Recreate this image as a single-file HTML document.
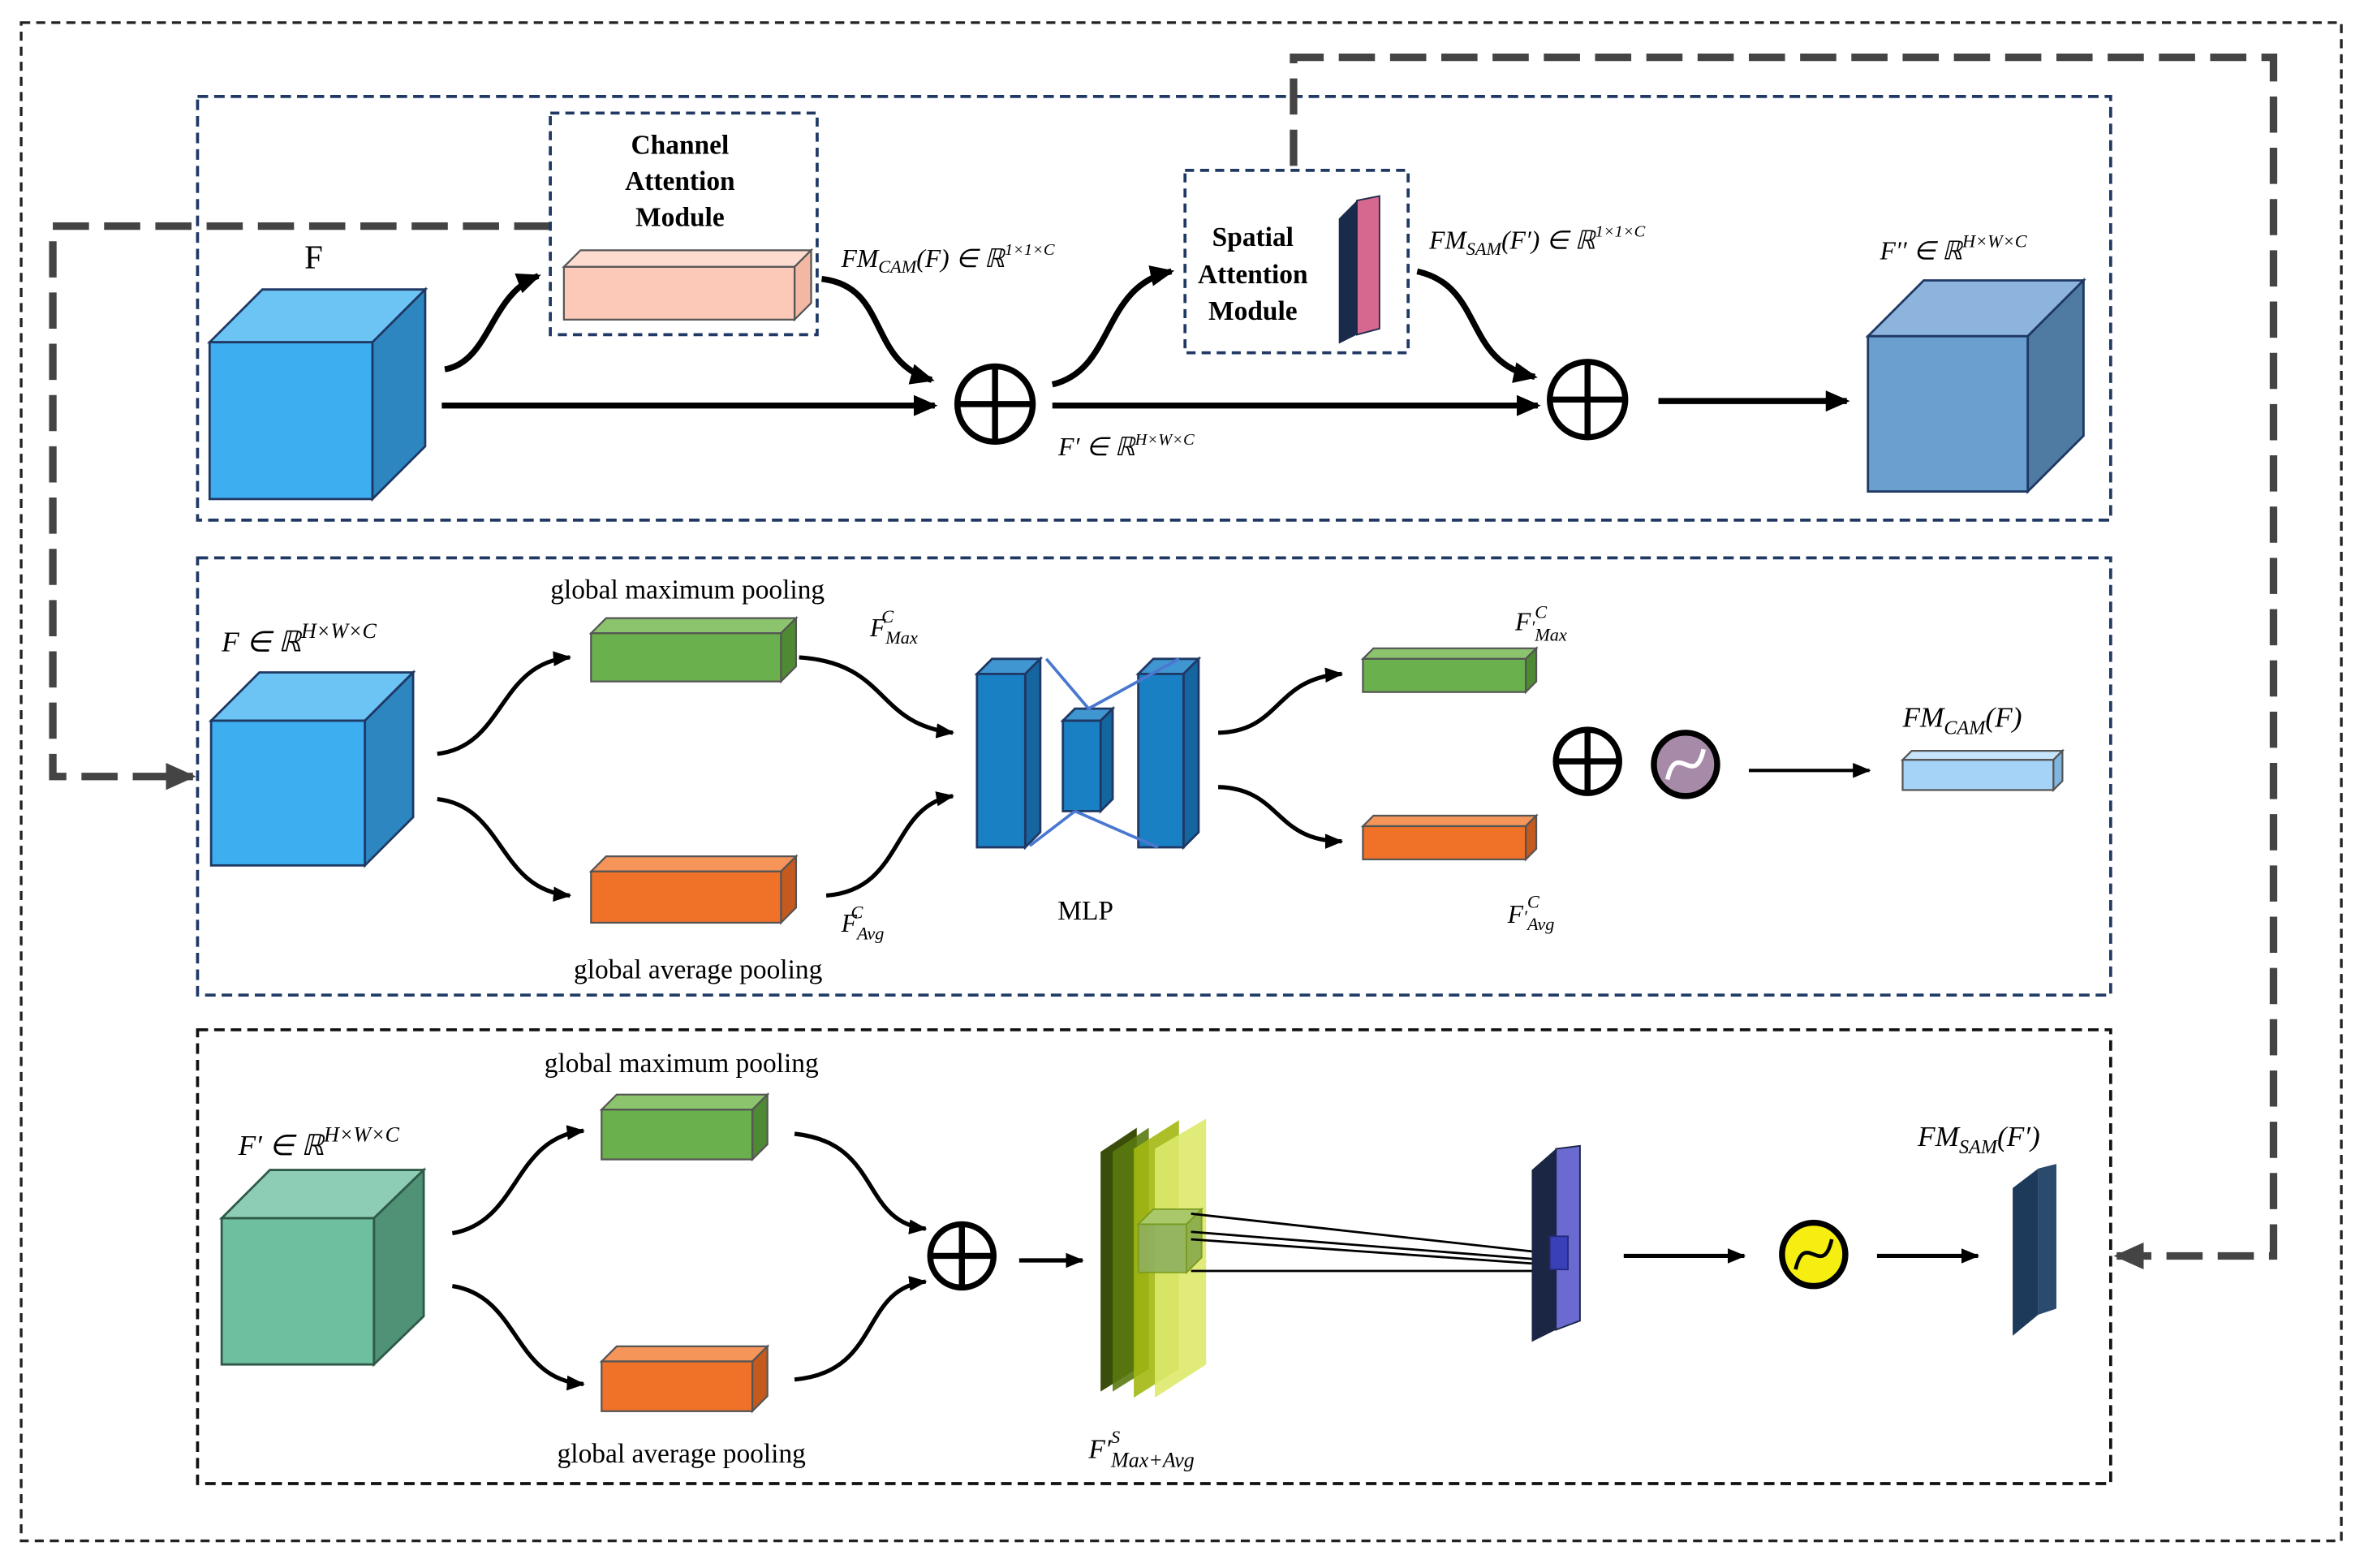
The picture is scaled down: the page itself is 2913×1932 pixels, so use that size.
<!DOCTYPE html>
<html><head><meta charset="utf-8"><style>html,body{margin:0;padding:0;background:#fff}svg{display:block}</style></head>
<body>
<svg width="2913" height="1932" viewBox="0 0 1568 1040" xmlns="http://www.w3.org/2000/svg" font-family="Liberation Serif, serif">
<defs>
<marker id="a" markerWidth="16" markerHeight="14" refX="14" refY="7" orient="auto" markerUnits="userSpaceOnUse"><path d="M0,0 L16,7 L0,14 z" fill="#000"/></marker>
<marker id="s" markerWidth="12" markerHeight="10" refX="11" refY="5" orient="auto" markerUnits="userSpaceOnUse"><path d="M0,0 L12,5 L0,10 z" fill="#000"/></marker>
<marker id="g" markerWidth="20" markerHeight="18" refX="18" refY="9" orient="auto" markerUnits="userSpaceOnUse"><path d="M0,0 L20,9 L0,18 z" fill="#444"/></marker>
</defs>
<rect width="1568" height="1040" fill="#fff"/>
<rect x="14" y="15" width="1539" height="1007" fill="none" stroke="#222" stroke-width="1.8" stroke-dasharray="6,4"/>
<rect x="131" y="64" width="1269" height="281" fill="none" stroke="#1f3864" stroke-width="2" stroke-dasharray="7,4"/>
<rect x="131" y="370" width="1269" height="290" fill="none" stroke="#1f3864" stroke-width="2" stroke-dasharray="7,4"/>
<rect x="131" y="683" width="1269" height="301" fill="none" stroke="#111" stroke-width="2" stroke-dasharray="7,4"/>
<path d="M858,110 L858,38 L1508,38 L1508,833 L1404,833" fill="none" stroke="#444" stroke-width="5" stroke-dasharray="24,10" marker-end="url(#g)"/>
<path d="M365,150 L35,150 L35,515 L128,515" fill="none" stroke="#444" stroke-width="5" stroke-dasharray="24,10" marker-end="url(#g)"/>
<g stroke="#1f3864" stroke-width="1.5">
<polygon points="139,227 174,192 282,192 247,227" fill="#6cc4f5"/>
<polygon points="247,227 282,192 282,296 247,331" fill="#2e86c0"/>
<rect x="139" y="227" width="108" height="104" fill="#3daeef"/>
<polygon points="1239,223 1276,186 1382,186 1345,223" fill="#8cb4dc"/>
<polygon points="1345,223 1382,186 1382,289 1345,326" fill="#4f7ba3"/>
<rect x="1239" y="223" width="106" height="103" fill="#6a9fd0"/>
</g>
<text x="208" y="178" font-size="22" text-anchor="middle">F</text>
<rect x="365" y="75" width="177" height="147" fill="none" stroke="#1f3864" stroke-width="2" stroke-dasharray="6,4"/>
<text font-size="18" font-weight="bold" text-anchor="middle"><tspan x="451" y="102">Channel</tspan><tspan x="451" y="126">Attention</tspan><tspan x="451" y="150">Module</tspan></text>
<g stroke="#555" stroke-width="1.2">
<polygon points="374,177 385,166 538,166 527,177" fill="#fddccf"/>
<polygon points="527,177 538,166 538,201 527,212" fill="#f2b8a4"/>
<rect x="374" y="177" width="153" height="35" fill="#fcc9b8"/>
</g>
<rect x="786" y="113" width="148" height="121" fill="none" stroke="#1f3864" stroke-width="2" stroke-dasharray="6,4"/>
<text font-size="18" font-weight="bold" text-anchor="middle"><tspan x="831" y="163">Spatial</tspan><tspan x="831" y="188">Attention</tspan><tspan x="831" y="212">Module</tspan></text>
<polygon points="888,145 900,133 900,222 888,228" fill="#1a2a4a"/>
<polygon points="900,133 915,130 915,218 900,222" fill="#d6688f" stroke="#1a2a4a" stroke-width="1"/>
<g fill="none" stroke="#000" stroke-width="4">
<path d="M295,245 C325,240 325,195 357,183" marker-end="url(#a)"/>
<path d="M545,185 C590,190 575,240 618,252" marker-end="url(#a)"/>
<path d="M698,255 C740,245 730,190 777,180" marker-end="url(#a)"/>
<path d="M940,180 C985,190 970,240 1018,250" marker-end="url(#a)"/>
<path d="M293,269 L620,269" marker-end="url(#a)"/>
<path d="M698,269 L1020,269" marker-end="url(#a)"/>
<path d="M1100,266 L1225,266" marker-end="url(#a)"/>
</g>
<g fill="none" stroke="#000" stroke-width="4">
<circle cx="660" cy="268" r="25"/><path d="M635,268 H685 M660,243 V293"/>
<circle cx="1053" cy="265" r="25"/><path d="M1028,265 H1078 M1053,240 V290"/>
</g>
<g font-style="italic" font-size="17">
<text x="558" y="177">FM<tspan font-size="12" dy="4">CAM</tspan><tspan dy="-4">(F) ∈ ℝ</tspan><tspan font-size="11" dy="-8">1×1×C</tspan></text>
<text x="948" y="165">FM<tspan font-size="12" dy="4">SAM</tspan><tspan dy="-4">(F′) ∈ ℝ</tspan><tspan font-size="11" dy="-8">1×1×C</tspan></text>
<text x="1247" y="172">F′′ ∈ ℝ<tspan font-size="12" dy="-8">H×W×C</tspan></text>
<text x="702" y="302">F′ ∈ ℝ<tspan font-size="11" dy="-7">H×W×C</tspan></text>
</g>
<g stroke="#1f3864" stroke-width="1.5">
<polygon points="140,478 172,446 274,446 242,478" fill="#6cc4f5"/>
<polygon points="242,478 274,446 274,542 242,574" fill="#2e86c0"/>
<rect x="140" y="478" width="102" height="96" fill="#3daeef"/>
</g>
<text x="147" y="432" font-size="19" font-style="italic">F ∈ ℝ<tspan font-size="14" dy="-9">H×W×C</tspan></text>
<g stroke="#555" stroke-width="1.2">
<polygon points="392,420 402,410 528,410 518,420" fill="#8cc46e"/><polygon points="518,420 528,410 528,442 518,452" fill="#4e8a34"/><rect x="392" y="420" width="126" height="32" fill="#6ab04c"/>
<polygon points="392,578 402,568 528,568 518,578" fill="#f5955a"/><polygon points="518,578 528,568 528,602 518,612" fill="#c55a1e"/><rect x="392" y="578" width="126" height="34" fill="#f07228"/>
<polygon points="904,437 911,430 1019,430 1012,437" fill="#8cc46e"/><polygon points="1012,437 1019,430 1019,452 1012,459" fill="#4e8a34"/><rect x="904" y="437" width="108" height="22" fill="#6ab04c"/>
<polygon points="904,548 911,541 1019,541 1012,548" fill="#f5955a"/><polygon points="1012,548 1019,541 1019,563 1012,570" fill="#c55a1e"/><rect x="904" y="548" width="108" height="22" fill="#f07228"/>
<polygon points="1262,504 1268,498 1368,498 1362,504" fill="#c6e4fb"/><polygon points="1362,504 1368,498 1368,518 1362,524" fill="#7fb6e0"/><rect x="1262" y="504" width="100" height="20" fill="#a5d3f7"/>
</g>
<text x="456" y="397" font-size="18" text-anchor="middle">global maximum pooling</text>
<text x="463" y="649" font-size="18" text-anchor="middle">global average pooling</text>
<g stroke="#1f3864" stroke-width="1.5">
<polygon points="648,447 658,437 690,437 680,447" fill="#3f96d0"/><polygon points="680,447 690,437 690,552 680,562" fill="#1565a0"/><rect x="648" y="447" width="32" height="115" fill="#1a80c4"/>
<polygon points="705,478 713,470 738,470 730,478" fill="#3f96d0"/><polygon points="730,478 738,470 738,530 730,538" fill="#1565a0"/><rect x="705" y="478" width="25" height="60" fill="#1a80c4"/>
<polygon points="755,447 765,437 795,437 785,447" fill="#3f96d0"/><polygon points="785,447 795,437 795,552 785,562" fill="#1565a0"/><rect x="755" y="447" width="30" height="115" fill="#1a80c4"/>
</g>
<g stroke="#4a78d0" stroke-width="2" fill="none"><path d="M694,437 L722,470 L782,437 M713,538 L683,561 M713,538 L768,562"/></g>
<text x="720" y="610" font-size="18" text-anchor="middle">MLP</text>
<g fill="none" stroke="#000" stroke-width="2.8">
<path d="M290,500 C335,495 330,440 378,436" marker-end="url(#s)"/>
<path d="M290,530 C335,535 330,590 378,594" marker-end="url(#s)"/>
<path d="M530,436 C590,440 580,480 632,486" marker-end="url(#s)"/>
<path d="M548,594 C600,590 590,535 632,528" marker-end="url(#s)"/>
<path d="M808,486 C850,485 845,450 890,447" marker-end="url(#s)"/>
<path d="M808,522 C850,523 845,558 890,558" marker-end="url(#s)"/>
<path d="M1160,511 L1240,511" stroke-width="2.2" marker-end="url(#s)"/>
</g>
<g fill="none" stroke="#000" stroke-width="4">
<circle cx="1053" cy="505" r="21"/><path d="M1032,505 H1074 M1053,484 V526"/>
</g>
<circle cx="1118" cy="507" r="21" fill="#a68aa8" stroke="#000" stroke-width="4"/>
<path d="M1106,517 C1112,490 1124,524 1130,497" fill="none" stroke="#fff" stroke-width="3"/>
<g font-style="italic" font-size="17">
<text x="577" y="422">F<tspan font-size="12" dy="5">Max</tspan><tspan font-size="12" dx="-24" dy="-14">C</tspan></text>
<text x="558" y="618">F<tspan font-size="12" dy="5">Avg</tspan><tspan font-size="12" dx="-22" dy="-14">C</tspan></text>
<text x="1005" y="418">F<tspan font-size="12" dy="2">′</tspan><tspan font-size="12" dy="-10">C</tspan><tspan font-size="12" dx="-8" dy="15">Max</tspan></text>
<text x="1000" y="612">F<tspan font-size="12" dy="0">′</tspan><tspan font-size="12" dy="-10">C</tspan><tspan font-size="12" dx="-8" dy="15">Avg</tspan></text>
<text x="1262" y="482" font-size="19">FM<tspan font-size="13" dy="5">CAM</tspan><tspan dy="-5">(F)</tspan></text>
</g>
<g stroke="#2f5a48" stroke-width="1.5">
<polygon points="147,808 179,776 281,776 248,808" fill="#8ecdb5"/>
<polygon points="248,808 281,776 281,873 248,905" fill="#4f9276"/>
<rect x="147" y="808" width="101" height="97" fill="#6dbf9f"/>
</g>
<text x="158" y="766" font-size="19" font-style="italic">F′ ∈ ℝ<tspan font-size="14" dy="-9">H×W×C</tspan></text>
<text x="452" y="711" font-size="18" text-anchor="middle">global maximum pooling</text>
<text x="452" y="970" font-size="18" text-anchor="middle">global average pooling</text>
<g stroke="#555" stroke-width="1.2">
<polygon points="399,736 409,726 509,726 499,736" fill="#8cc46e"/><polygon points="499,736 509,726 509,759 499,769" fill="#4e8a34"/><rect x="399" y="736" width="100" height="33" fill="#6ab04c"/>
<polygon points="399,903 409,893 509,893 499,903" fill="#f5955a"/><polygon points="499,903 509,893 509,926 499,936" fill="#c55a1e"/><rect x="399" y="903" width="100" height="33" fill="#f07228"/>
</g>
<g fill="none" stroke="#000" stroke-width="2.8">
<path d="M300,818 C345,810 340,755 387,750" marker-end="url(#s)"/>
<path d="M300,853 C345,860 340,915 387,918" marker-end="url(#s)"/>
<path d="M527,752 C585,758 570,810 614,815" marker-end="url(#s)"/>
<path d="M527,915 C585,910 570,855 614,850" marker-end="url(#s)"/>
<path d="M676,836 L718,836" marker-end="url(#s)"/>
<path d="M1077,833 L1157,833" marker-end="url(#s)"/>
<path d="M1245,833 L1312,833" marker-end="url(#s)"/>
</g>
<g fill="none" stroke="#000" stroke-width="4">
<circle cx="638" cy="833" r="21"/><path d="M617,833 H659 M638,812 V854"/>
</g>
<polygon points="730,764 754,748 754,908 730,923" fill="#3b4d0a"/>
<polygon points="738,764 762,748 762,908 738,923" fill="#5a7a10" opacity="0.9"/>
<polygon points="752,762 782,743 782,908 752,927" fill="#a3b812" opacity="0.9"/>
<polygon points="766,762 800,742 800,905 766,927" fill="#dde96a" opacity="0.9"/>
<polygon points="755,812 765,802 797,802 787,812" fill="#a8c86a" stroke="#7a9a20"/>
<rect x="755" y="812" width="32" height="32" fill="#8fb060" stroke="#7a9a20" opacity="0.9"/>
<polygon points="787,812 797,802 797,834 787,844" fill="#90b050" stroke="#7a9a20"/>
<g stroke="#000" stroke-width="1.5">
<path d="M790,805 L1016,830 M790,817 L1016,835 M790,822 L1016,838 M790,843 L1016,843"/>
</g>
<polygon points="1016,776 1032,762 1032,882 1016,890" fill="#1a2644"/>
<polygon points="1032,762 1048,760 1048,876 1032,882" fill="#6a6ad0" stroke="#1a2644" stroke-width="1"/>
<rect x="1028" y="820" width="12" height="22" fill="#3a40b8" stroke="#222a80"/>
<circle cx="1203" cy="832" r="21" fill="#f5ee10" stroke="#000" stroke-width="4"/>
<path d="M1191,842 C1197,815 1209,849 1215,822" fill="none" stroke="#000" stroke-width="2.5"/>
<polygon points="1335,788 1352,775 1352,872 1335,886" fill="#1e3a5a"/>
<polygon points="1352,775 1364,772 1364,868 1352,872" fill="#2a4a6e"/>
<text x="1272" y="760" font-size="19" font-style="italic">FM<tspan font-size="13" dy="5">SAM</tspan><tspan dy="-5">(F′)</tspan></text>
<text x="722" y="967" font-size="18" font-style="italic">F′<tspan font-size="12" dy="-10">S</tspan><tspan font-size="14" dx="-6" dy="16">Max+Avg</tspan></text>
</svg>
</body></html>
